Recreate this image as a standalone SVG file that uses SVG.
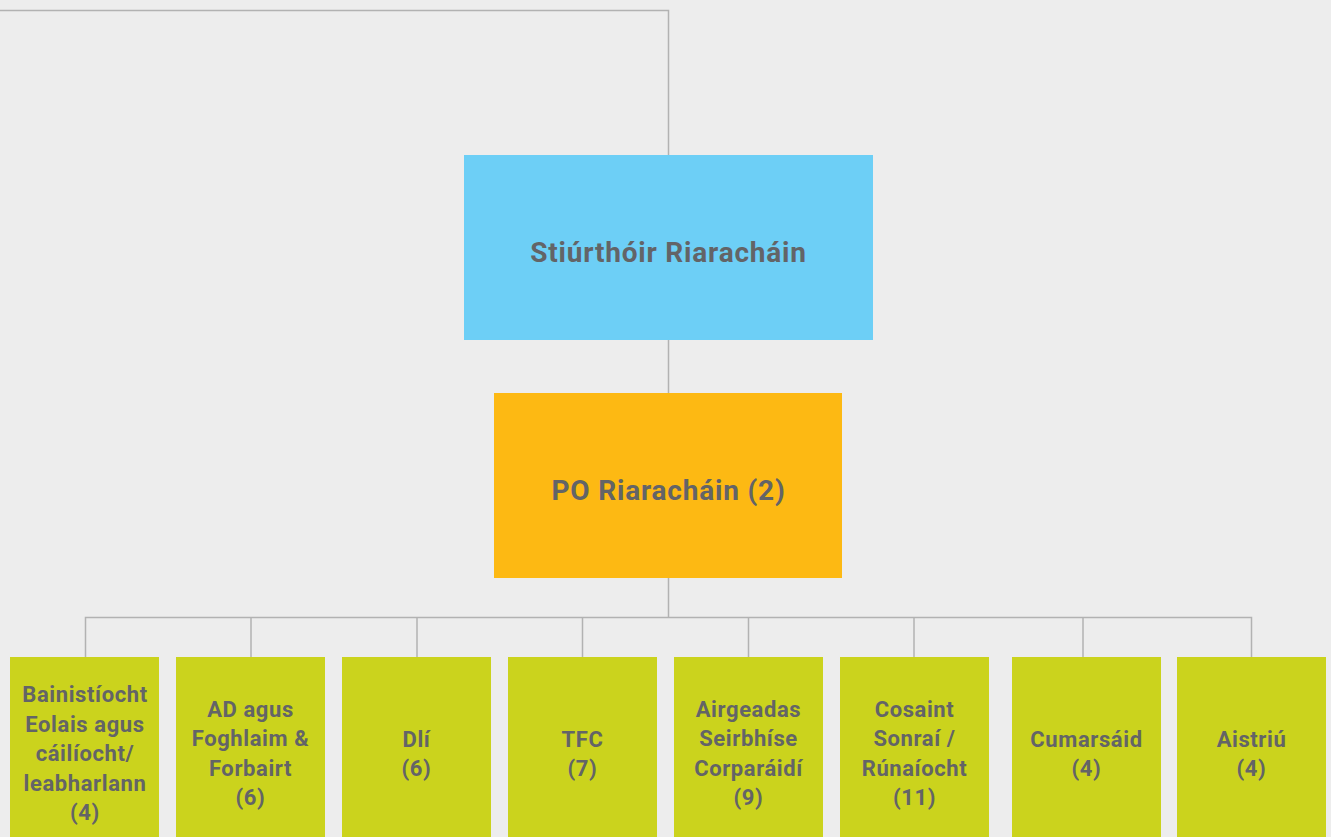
<svg xmlns="http://www.w3.org/2000/svg" width="1331" height="837" viewBox="0 0 1331 837">
<style>
.bg{fill:#EDEDED}
.conn{fill:none;stroke:#B2B2B2;stroke-width:1.5}
.blue{fill:#6DCFF6}
.orange{fill:#FDB913}
.green{fill:#CBD31D}
text{font-family:Roboto,"Liberation Sans",sans-serif;font-weight:bold;fill:#636467;text-anchor:middle}
.big{font-size:28px;letter-spacing:0.8px}
.small{font-size:22px;letter-spacing:0.6px}
</style>
<rect class="bg" x="0" y="0" width="1331" height="837"/>
<g id="connectors">
<path class="conn" d="M0 10.5 H668.5 V155"/>
<path class="conn" d="M668.5 340 V393"/>
<path class="conn" d="M668.5 578 V617.5"/>
<path class="conn" d="M85.5 657 V617.5 H1251.5 V657"/>
<path class="conn" d="M251 617.5 V657 M417 617.5 V657 M582.5 617.5 V657 M748.5 617.5 V657 M914 617.5 V657 M1083 617.5 V657"/>
</g>
<g id="n-stiurthoir"><rect class="blue" x="464" y="155" width="409" height="185"/><text class="big" x="668.5" y="261.5">Stiúrthóir Riaracháin</text></g>
<g id="n-po"><rect class="orange" x="494" y="393" width="348" height="185"/><text class="big" x="668.5" y="500">PO Riaracháin (2)</text></g>
<g id="n-bainistiocht"><rect class="green" x="10" y="657" width="149" height="190"/><text class="small" x="85" y="702"><tspan x="85">Bainistíocht</tspan><tspan x="85" dy="29.5">Eolais agus</tspan><tspan x="85" dy="29.5">cáilíocht/</tspan><tspan x="85" dy="29.5">leabharlann</tspan><tspan x="85" dy="29.5">(4)</tspan></text></g>
<g id="n-ad"><rect class="green" x="176" y="657" width="149" height="190"/><text class="small" x="250.5" y="716.7"><tspan x="250.5">AD agus</tspan><tspan x="250.5" dy="29.5">Foghlaim &amp;</tspan><tspan x="250.5" dy="29.5">Forbairt</tspan><tspan x="250.5" dy="29.5">(6)</tspan></text></g>
<g id="n-dli"><rect class="green" x="342" y="657" width="149" height="190"/><text class="small" x="416.5" y="746.5"><tspan x="416.5">Dlí</tspan><tspan x="416.5" dy="29.5">(6)</tspan></text></g>
<g id="n-tfc"><rect class="green" x="508" y="657" width="149" height="190"/><text class="small" x="582.5" y="746.5"><tspan x="582.5">TFC</tspan><tspan x="582.5" dy="29.5">(7)</tspan></text></g>
<g id="n-airgeadas"><rect class="green" x="674" y="657" width="149" height="190"/><text class="small" x="748.5" y="716.7"><tspan x="748.5">Airgeadas</tspan><tspan x="748.5" dy="29.5">Seirbhíse</tspan><tspan x="748.5" dy="29.5">Corparáidí</tspan><tspan x="748.5" dy="29.5">(9)</tspan></text></g>
<g id="n-cosaint"><rect class="green" x="840" y="657" width="149" height="190"/><text class="small" x="914.5" y="716.7"><tspan x="914.5">Cosaint</tspan><tspan x="914.5" dy="29.5">Sonraí /</tspan><tspan x="914.5" dy="29.5">Rúnaíocht</tspan><tspan x="914.5" dy="29.5">(11)</tspan></text></g>
<g id="n-cumarsaid"><rect class="green" x="1012" y="657" width="149" height="190"/><text class="small" x="1086.5" y="746.5"><tspan x="1086.5">Cumarsáid</tspan><tspan x="1086.5" dy="29.5">(4)</tspan></text></g>
<g id="n-aistriu"><rect class="green" x="1177" y="657" width="149" height="190"/><text class="small" x="1251.5" y="746.5"><tspan x="1251.5">Aistriú</tspan><tspan x="1251.5" dy="29.5">(4)</tspan></text></g>
</svg>
